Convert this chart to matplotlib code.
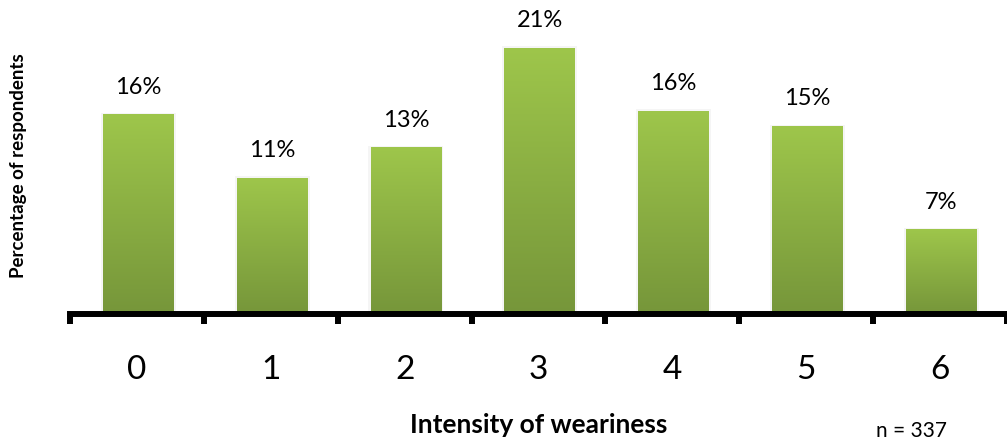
import matplotlib.pyplot as plt
import numpy as np
from matplotlib.colors import LinearSegmentedColormap

plt.rcParams['font.family'] = ['Lato', 'DejaVu Sans']

# weariness intensity 0..6, share of respondents (%)
categories = ['0', '1', '2', '3', '4', '5', '6']
values = [15.8, 10.8, 13.2, 21.1, 16.1, 14.9, 6.7]
labels = ['16%', '11%', '13%', '21%', '16%', '15%', '7%']

fig = plt.figure(figsize=(10.07, 4.42), dpi=100)
ax = fig.add_axes([0.0695, 0.29, 0.9305, 0.685])

x = np.arange(len(categories))
width = 0.53
bars = ax.bar(x + 0.01, values, width=width, color='none', edgecolor='none', zorder=2)

# green vertical gradient for each bar
cmap = LinearSegmentedColormap.from_list('grn', ['#76963A', '#9EC64B'])
grad = np.linspace(0, 1, 256).reshape(-1, 1)
for b in bars:
    x0, y0 = b.get_x(), b.get_y()
    w, h = b.get_width(), b.get_height()
    # soft shadow around the bar
    ax.bar(x0 + w / 2, h + 0.1, width=w + 0.03, color='#000000', alpha=0.04,
           zorder=1, edgecolor='none')
    im = ax.imshow(grad, extent=[x0, x0 + w, y0, y0 + h], origin='lower',
                   cmap=cmap, aspect='auto', zorder=2)
    im.set_clip_path(b)

for xi, v, lab in zip(x, values, labels):
    ax.text(xi + 0.01, v + 1.3, lab, ha='center', va='bottom', fontsize=17)

ax.set_xlim(-0.5, 6.44)
ax.set_ylim(0, 24.0)

for s in ['top', 'right', 'left']:
    ax.spines[s].set_visible(False)
ax.spines['bottom'].set_linewidth(4.3)
ax.spines['bottom'].set_color('black')
ax.set_yticks([])

ax.set_xticks(np.arange(-0.5, 7.0, 1.0), minor=False)
ax.set_xticklabels([])
ax.tick_params(axis='x', which='major', length=7, width=4.3, direction='out', color='black')
ax.set_xticks(x, minor=True)
ax.set_xticklabels(categories, minor=True, fontsize=24)
ax.tick_params(axis='x', which='minor', length=0, pad=30)

ax.set_xlabel('Intensity of weariness', fontsize=19, fontweight='bold', labelpad=20)
fig.text(0.018, 0.625, 'Percentage of respondents', rotation=90, ha='center',
         va='center', fontsize=13.5, fontweight='bold')
fig.text(0.87, 0.012, 'n = 337', fontsize=15)

fig.savefig('out.png', dpi=100)
